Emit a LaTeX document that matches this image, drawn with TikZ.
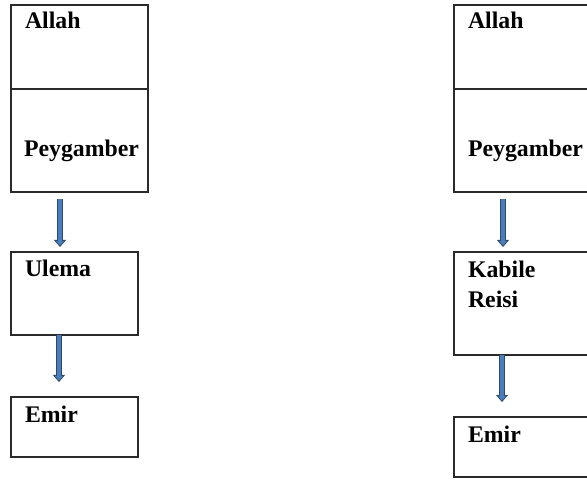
\documentclass[tikz,border=0pt]{standalone}
\usepackage{fontspec}
\setmainfont{Liberation Serif}
\usepackage{tikz}
\usetikzlibrary{arrows.meta}
\usetikzlibrary{positioning}
\usepackage{xcolor}
\definecolor{boxline}{HTML}{2A2A2A}
\definecolor{arrowfill}{HTML}{4A7EBB}
\definecolor{arrowline}{HTML}{2E4A6B}
\tikzset{x=1pt, y=1pt, node distance=60pt, every node/.style={outer sep=0pt}}
\tikzstyle{box} = [draw=boxline, line width=1.3pt, fill=none, inner sep=0pt, minimum width=137pt, anchor=north west]
\tikzstyle{lbl} = [inner sep=0pt, anchor=base west, font={\fontsize{23.8}{28}\selectfont\bfseries}]
\tikzstyle{flow} = [draw=arrowline, line width=5.5pt, -{Triangle[width=12pt, length=7pt, line width=0.8pt, fill=arrowfill]}, postaction={draw=arrowfill, line width=3.6pt, -, shorten >=6pt}]

\begin{document}
\begin{tikzpicture}[]
  \clip (0,0) rectangle (587,480);
  \useasboundingbox (0,0) rectangle (587,480);
  \node[box, minimum height=84pt] (allahL) at (11,475) {};
  \node[box, minimum height=103pt, below=0pt of allahL.south west, anchor=north west] (peyL) {};
  \node[box, minimum width=127pt, minimum height=83pt, below=of peyL.south west, anchor=north west] (ulema) {};
  \node[box, minimum width=127pt, minimum height=60pt, below=62pt of ulema.south west, anchor=north west] (emirL) {};
  \node[box, minimum height=84pt] (allahR) at (454,475) {};
  \node[box, minimum height=103pt, below=0pt of allahR.south west, anchor=north west] (peyR) {};
  \node[box, minimum height=103pt, below=of peyR.south west, anchor=north west] (kabile) {};
  \node[box, minimum height=60pt, below=62pt of kabile.south west, anchor=north west] (emirR) {};
  \node[lbl] (tAllahL) at ([shift={(14,-24)}]allahL.north west) {Allah};
  \node[lbl] (tPeyL) at ([shift={(13,-68)}]peyL.north west) {Peygamber};
  \node[lbl] (tUlema) at ([shift={(14,-25)}]ulema.north west) {Ulema};
  \node[lbl] (tEmirL) at ([shift={(14,-25)}]emirL.north west) {Emir};
  \node[lbl] (tAllahR) at ([shift={(14,-24)}]allahR.north west) {Allah};
  \node[lbl] (tPeyR) at ([shift={(14,-68)}]peyR.north west) {Peygamber};
  \node[lbl] (tKabile) at ([shift={(14,-26)}]kabile.north west) {Kabile};
  \node[lbl] (tReisi) at ([shift={(14,-56)}]kabile.north west) {Reisi};
  \node[lbl] (tEmirR) at ([shift={(14,-25)}]emirR.north west) {Emir};
  \draw[flow] ([shift={(49,-7)}]peyL.south west) -- ([shift={(49,5)}]ulema.north west);
  \draw[flow] ([shift={(48,0)}]ulema.south west) -- ([shift={(48,15)}]emirL.north west);
  \draw[flow] ([shift={(49,-7)}]peyR.south west) -- ([shift={(49,5)}]kabile.north west);
  \draw[flow] ([shift={(48,0)}]kabile.south west) -- ([shift={(48,15)}]emirR.north west);
\end{tikzpicture}
\end{document}
